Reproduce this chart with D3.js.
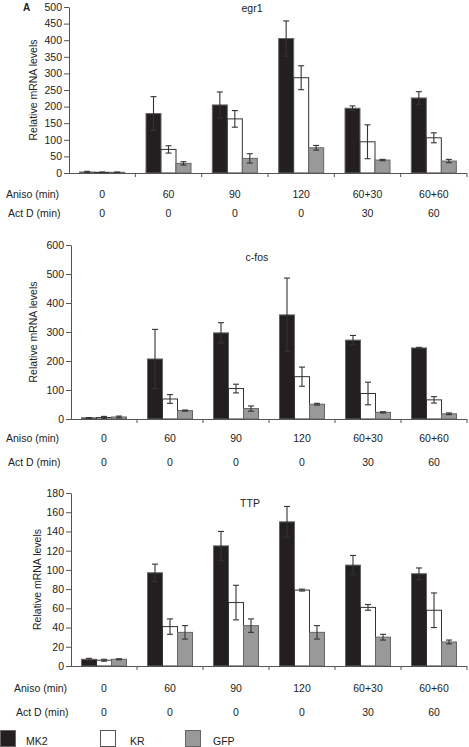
<!DOCTYPE html>
<html><head><meta charset="utf-8">
<script src="https://cdn.jsdelivr.net/npm/d3@7"></script>
<style>body{margin:0;background:#fff}svg{display:block}text{font-family:"Liberation Sans",Arial,sans-serif;fill:#222}</style>
</head><body><svg id="c" width="469" height="747"></svg>
<script>
const aniso = ["0","60","90","120","60+30","60+60"];
const actD = ["0","0","0","0","30","60"];
const series = ["MK2","KR","GFP"];
const colors = ["#231f20","#ffffff","#999999"];

const egr1MK2 = [3,179,205,405,195,226], egr1MK2Err = [2,51,39,53,7,19];
const egr1KR  = [2,71,163,287,94,106],  egr1KRErr  = [1,11,25,36,51,15];
const egr1GFP = [2,29,44,76,39,36],     egr1GFPErr = [1,5,14,7,2,5];

const cfosMK2 = [4,207,297,359,272,245], cfosMK2Err = [1,102,35,127,16,2];
const cfosKR  = [5,69,105,146,88,66],    cfosKRErr  = [4,15,15,33,39,11];
const cfosGFP = [7,29,36,51,23,18],      cfosGFPErr = [3,2,9,3,2,3];

const ttpMK2 = [7,97,125,150,105,96], ttpMK2Err = [1,9,15,16,10,6];
const ttpKR  = [6,41,66,79,61,58],    ttpKRErr  = [1,8,18,1,3,18];
const ttpGFP = [7,35,42,35,30,25],    ttpGFPErr = [0.5,7,7,7,3,2];

const yMax = [500,600,180], yStep = [50,100,20];
const titles = ["egr1","c-fos","TTP"];

const panels = [
  {title:titles[0], max:yMax[0], step:yStep[0], vals:[egr1MK2,egr1KR,egr1GFP], errs:[egr1MK2Err,egr1KRErr,egr1GFPErr],
   x0:69, x1:467, y0:173, y1:7, ylx:33, tx:252, ty:12, ay:198, dy:217, ax:6, dx:8},
  {title:titles[1], max:yMax[1], step:yStep[1], vals:[cfosMK2,cfosKR,cfosGFP], errs:[cfosMK2Err,cfosKRErr,cfosGFPErr],
   x0:71, x1:467, y0:419, y1:245, ylx:33, tx:257, ty:261, ay:442, dy:466, ax:6, dx:8},
  {title:titles[2], max:yMax[2], step:yStep[2], vals:[ttpMK2,ttpKR,ttpGFP], errs:[ttpMK2Err,ttpKRErr,ttpGFPErr],
   x0:71, x1:467, y0:666, y1:493, ylx:37, tx:250, ty:507, ay:692, dy:716, ax:14, dx:16}
];

const svg = d3.select("#c");
const fs = "10.5px";
const axisCol = "#555";

svg.append("text").attr("x",23).attr("y",11).attr("font-size","10px").attr("font-weight","bold").text("A");

panels.forEach(p => {
  const g = svg.append("g");
  const x = d3.scaleBand().domain(aniso).range([p.x0,p.x1]);
  const y = d3.scaleLinear().domain([0,p.max]).range([p.y0,p.y1]);
  const bw = 15;
  const xs = d3.scaleBand().domain(series).range([0,bw*3]);
  const off = (x.bandwidth()-bw*3)/2;

  // bars
  series.forEach((s,si) => {
    const bg = g.append("g");
    bg.selectAll("rect").data(p.vals[si]).join("rect")
      .attr("x",(d,i)=>x(aniso[i])+off+xs(s))
      .attr("y",d=>y(d))
      .attr("width",bw)
      .attr("height",d=>p.y0-y(d))
      .attr("fill",colors[si])
      .attr("stroke", si===1 ? "#333" : "#666")
      .attr("stroke-width",1);
    // error bars
    const eg = g.append("g").attr("stroke", "#333").attr("stroke-width",1.1);
    p.vals[si].forEach((v,i) => {
      const e = p.errs[si][i];
      const cx = x(aniso[i])+off+xs(s)+bw/2;
      const top = y(v+e), bot = y(Math.max(0,v-e));
      eg.append("line").attr("x1",cx).attr("x2",cx).attr("y1",top).attr("y2",bot);
      eg.append("line").attr("x1",cx-3).attr("x2",cx+3).attr("y1",top).attr("y2",top);
      eg.append("line").attr("x1",cx-3).attr("x2",cx+3).attr("y1",bot).attr("y2",bot);
    });
  });

  // y axis
  const ya = g.append("g").attr("transform",`translate(${p.x0},0)`)
    .call(d3.axisLeft(y).tickValues(d3.range(0,p.max+1,p.step)).tickSize(5).tickPadding(2).tickSizeOuter(0));
  ya.selectAll("text").attr("font-size",fs).attr("font-family","Liberation Sans, Arial, sans-serif").attr("fill","#222");
  ya.selectAll("line,path").attr("stroke",axisCol);

  // x axis with ticks at boundaries
  g.append("line").attr("x1",p.x0).attr("x2",p.x1).attr("y1",p.y0+0.5).attr("y2",p.y0+0.5).attr("stroke",axisCol);
  g.selectAll(".xt").data(aniso).join("line")
    .attr("x1",d=>x(d)+x.bandwidth()).attr("x2",d=>x(d)+x.bandwidth())
    .attr("y1",p.y0).attr("y2",p.y0+4).attr("stroke",axisCol);

  // y label
  g.append("text").attr("transform",`translate(${p.ylx},${(p.y0+p.y1)/2}) rotate(-90)`)
    .attr("text-anchor","middle").attr("dy","0.35em").attr("font-size",fs).text("Relative mRNA levels");

  // title
  g.append("text").attr("x",p.tx).attr("y",p.ty).attr("text-anchor","middle").attr("font-size",fs).text(p.title);

  // category rows
  g.append("text").attr("x",p.ax).attr("y",p.ay).attr("font-size",fs).text("Aniso (min)");
  g.append("text").attr("x",p.dx).attr("y",p.dy).attr("font-size",fs).text("Act D (min)");
  g.selectAll(".an").data(aniso).join("text")
    .attr("x",d=>x(d)+x.bandwidth()/2).attr("y",p.ay).attr("text-anchor","middle").attr("font-size",fs).text(d=>d);
  g.selectAll(".ad").data(actD).join("text")
    .attr("x",(d,i)=>x(aniso[i])+x.bandwidth()/2).attr("y",p.dy).attr("text-anchor","middle").attr("font-size",fs).text(d=>d);
});

// legend
const legX = [0,100,185];
const lg = svg.append("g");
series.forEach((s,i) => {
  lg.append("rect").attr("x",legX[i]+0.5).attr("y",730.5).attr("width",15).attr("height",16)
    .attr("fill",colors[i]).attr("stroke", i===1 ? "#555" : "#666");
  lg.append("text").attr("x",legX[i]+26 + (i===1?4:(i===2?2:0))).attr("y",745).attr("font-size",fs).text(s);
});
</script></body></html>
